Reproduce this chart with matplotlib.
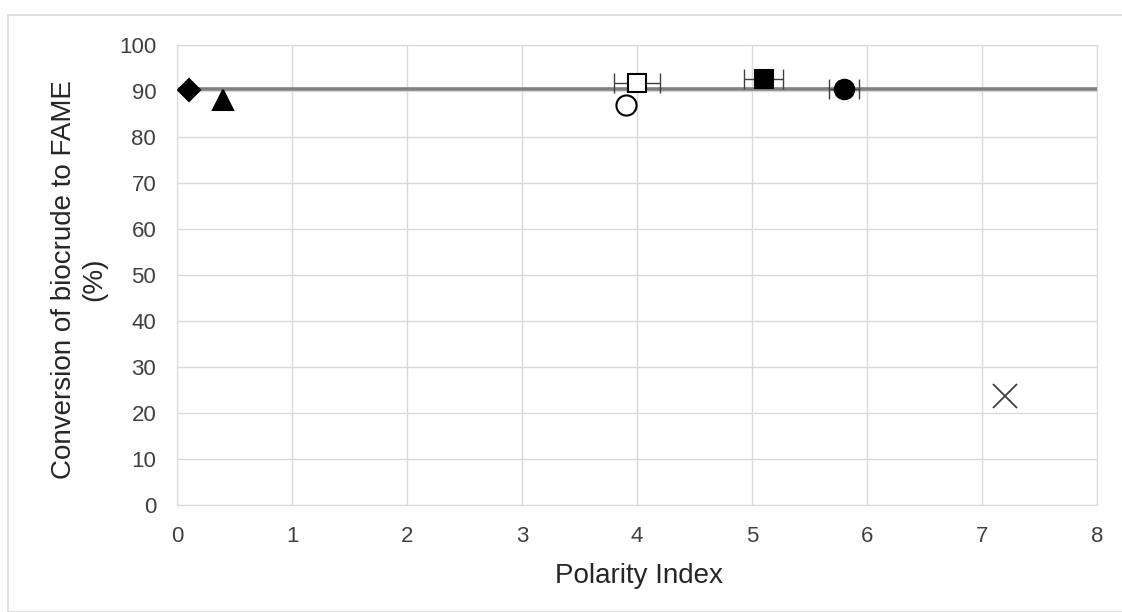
import matplotlib
matplotlib.use("Agg")
import matplotlib.pyplot as plt
from matplotlib.patches import Rectangle

plt.rcParams['font.family'] = ['Liberation Sans', 'DejaVu Sans']

# Data
polarity = [0.1, 0.4, 3.9, 4.0, 5.1, 5.8, 7.2]
conversion = [90.3, 88.1, 86.9, 91.7, 92.6, 90.4, 23.8]
x_err = [0, 0, 0, 0.2, 0.17, 0.13, 0]
markers = ['D', '^', 'o', 's', 's', 'o', 'x']
filled = [True, True, False, False, True, True, False]
msizes = [11.5, 15, 14.5, 13, 13.5, 14, 17]
mean_line = 90.4
xticks = list(range(0, 9))
yticks = list(range(0, 101, 10))

fig = plt.figure(figsize=(11.22, 6.12), dpi=100)
fig.patches.append(Rectangle((8/1122, 0), 1.0, 1 - 15/612, transform=fig.transFigure,
                             fill=False, edgecolor='#d9d9d9', linewidth=1.2))
ax = fig.add_axes([177/1122, 1 - 505/612, (1097 - 177)/1122, (505 - 45)/612])

ax.set_xlim(0, 8)
ax.set_ylim(0, 100)
ax.set_xticks(xticks)
ax.set_yticks(yticks)
ax.grid(True, color='#d9d9d9', linewidth=1.0)
ax.set_axisbelow(True)
for s in ax.spines.values():
    s.set_color('#d9d9d9')
ax.tick_params(length=0, labelsize=16, colors='#404040', pad=15)

ax.axhline(mean_line, color='#808080', linewidth=2.6, zorder=2)

for x, y, xe, m, f, ms in zip(polarity, conversion, x_err, markers, filled, msizes):
    if xe > 0:
        ax.errorbar(x, y, xerr=xe, fmt='none', ecolor='#404040', elinewidth=1.0,
                    capsize=7, capthick=1.0, zorder=3)
    if m == 'x':
        ax.plot(x, y, marker='x', color='#404040', markersize=ms, markeredgewidth=1.3,
                linestyle='none', zorder=4)
    else:
        ax.plot(x, y, marker=m, markersize=ms, markerfacecolor='black' if f else 'white',
                markeredgecolor='black', markeredgewidth=1.5, linestyle='none', zorder=4)

ax.set_xlabel('Polarity Index', fontsize=20, color='#262626', va='center')
ax.xaxis.set_label_coords(0.5016, -0.154)
ax.set_ylabel('Conversion of biocrude to FAME\n(%)', fontsize=20, color='#262626',
              va='center', linespacing=1.2)
ax.yaxis.set_label_coords((79 - 177) / 920, 0.49)

fig.savefig('out.png', dpi=100)
